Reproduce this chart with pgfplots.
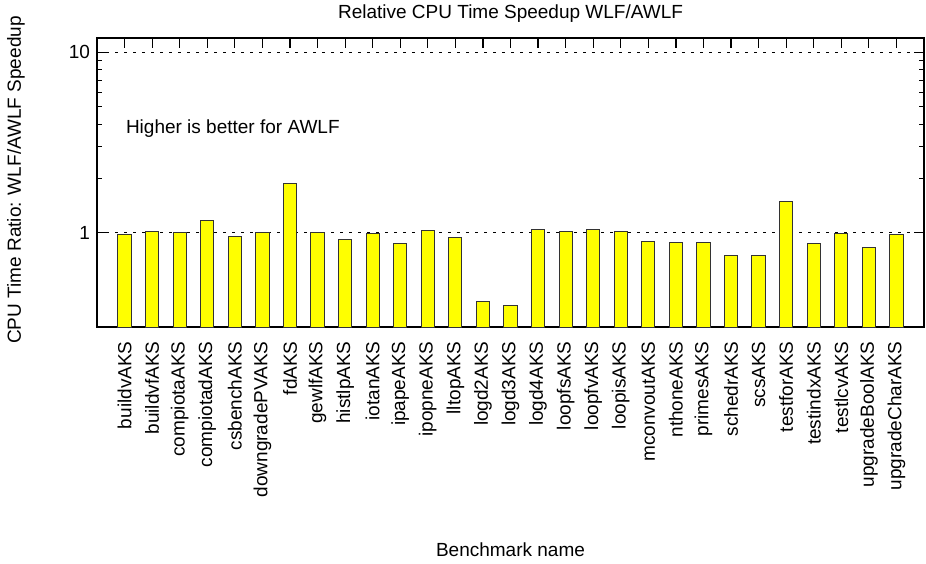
\documentclass[border=0pt]{standalone}
\usepackage{fontspec}
\setmainfont{Liberation Sans}
\usepackage{pgfplots}
\pgfplotsset{compat=1.18}
\begin{document}
\begin{tikzpicture}[font=\fontsize{9.5}{11}\selectfont]
\begin{axis}[
  at={(48.5pt,118pt)}, anchor=south west,
  scale only axis, width=413.5pt, height=144.5pt,
  ymode=log, log origin y=infty,
  ymin=0.3, ymax=12,
  xmin=-1, xmax=29,
  clip=false,
  xtick={0,...,28},
  xticklabels={buildvAKS,buildvfAKS,compiotaAKS,compiotadAKS,csbenchAKS,downgradePVAKS,fdAKS,gewlfAKS,histlpAKS,iotanAKS,ipapeAKS,ipopneAKS,lltopAKS,logd2AKS,logd3AKS,logd4AKS,loopfsAKS,loopfvAKS,loopisAKS,mconvoutAKS,nthoneAKS,primesAKS,schedrAKS,scsAKS,testforAKS,testindxAKS,testlcvAKS,upgradeBoolAKS,upgradeCharAKS},
  xticklabel style={yshift=-7pt, rotate=90, anchor=east, inner sep=0pt},
  ytick={1,10},
  yticklabels={1,10},
  tick align=inside,
  major tick length=5pt,
  minor tick length=2.5pt,
  tick style={draw=black, line width=0.5pt},
  axis line style={line width=0.6pt},
  ymajorgrids,
  major grid style={black, line width=0.5pt, dash pattern=on 1.5pt off 3pt},
  /pgf/number format/assume math mode=true,
  ticklabel style={font=\fontsize{9.5}{11}\selectfont},
]
\addplot[ybar, bar width=0.48, fill={rgb,1:red,1;green,1;blue,0}, draw=black!80, line width=0.5pt] coordinates {
(0,0.971) (1,1.009) (2,0.996) (3,1.161) (4,0.958) (5,1.0) (6,1.877) (7,1.004)
(8,0.915) (9,0.991) (10,0.869) (11,1.030) (12,0.946) (13,0.416) (14,0.395)
(15,1.039) (16,1.013) (17,1.039) (18,1.017) (19,0.888) (20,0.884) (21,0.884)
(22,0.749) (23,0.752) (24,1.498) (25,0.869) (26,0.987) (27,0.829) (28,0.971)
};
\pgfplotsinvokeforeach{0,...,28}{
  \draw[black, line width=0.6pt] (axis cs:#1,12) -- (axis cs:#1,10.6);
}
\draw[black, line width=0.6pt] (axis cs:-1,1) -- (axis cs:-0.64,1);
\draw[black, line width=0.6pt] (axis cs:-1,10) -- (axis cs:-0.64,10);
\draw[black, line width=0.6pt] (axis cs:29,1) -- (axis cs:28.64,1);
\draw[black, line width=0.6pt] (axis cs:29,10) -- (axis cs:28.64,10);
\end{axis}
\node at (255.25pt,274.5pt) {Relative CPU Time Speedup WLF/AWLF};
\node[rotate=90] at (8pt,191.5pt) {CPU Time Ratio: WLF/AWLF Speedup};
\node at (255.25pt,6.5pt) {Benchmark name};
\node[anchor=west, inner sep=0pt] at (62.8pt,217pt) {Higher is better for AWLF};
\pgfresetboundingbox
\path (0,0) rectangle (463pt,281.5pt);
\end{tikzpicture}
\end{document}
